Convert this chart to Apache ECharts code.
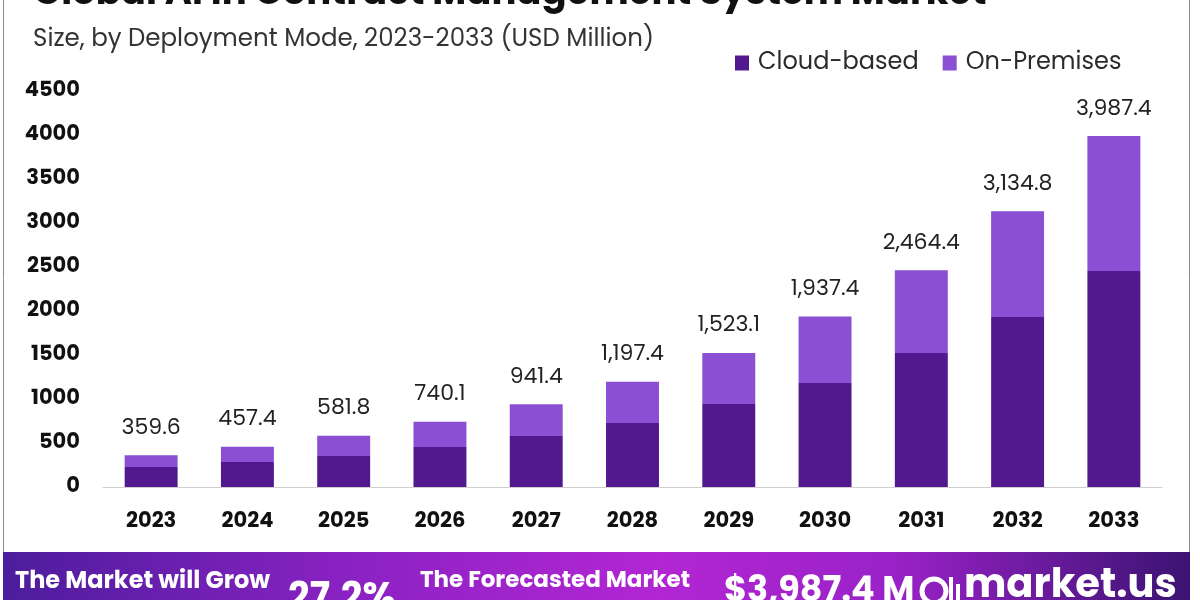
<!DOCTYPE html>
<html>
<head>
<meta charset="utf-8">
<script src="https://cdn.jsdelivr.net/npm/echarts@6/dist/echarts.min.js"></script>
<style>
html,body{margin:0;padding:0;background:#fff;}
#chart{width:1200px;height:600px;}
</style>
</head>
<body>
<div id="chart"></div>
<script>
const categories = ['2023','2024','2025','2026','2027','2028','2029','2030','2031','2032','2033'];
const totals = [359.6, 457.4, 581.8, 740.1, 941.4, 1197.4, 1523.1, 1937.4, 2464.4, 3134.8, 3987.4];
const cloudBased = [227, 284, 352, 455, 580, 727, 943, 1182, 1523, 1932, 2455];
const onPremises = [132.6, 173.4, 229.8, 285.1, 361.4, 470.4, 580.1, 755.4, 941.4, 1202.8, 1532.4];
const yTicks = [0, 500, 1000, 1500, 2000, 2500, 3000, 3500, 4000, 4500];

const FONT = 'Poppins, Inter, "Noto Sans", sans-serif';

function fmt(v){
  return v.toLocaleString('en-US',{minimumFractionDigits:1,maximumFractionDigits:1});
}

const chart = echarts.init(document.getElementById('chart'));
chart.setOption({
  backgroundColor:'#ffffff',
  animation:false,
  textStyle:{fontFamily:FONT},
  grid:{left:103, right:38, top:91, bottom:113, containLabel:false},
  legend:{
    data:['Cloud-based','On-Premises'],
    left:730, top:46,
    icon:'rect', itemWidth:14, itemHeight:15, itemGap:24,
    textStyle:{fontSize:24, color:'#2b2b2b', fontFamily:FONT, padding:[0,0,0,4]}
  },
  xAxis:{
    type:'category',
    data:categories,
    axisLine:{lineStyle:{color:'#cfcfcf', width:1}},
    axisTick:{show:false},
    axisLabel:{fontSize:21, fontWeight:'bold', color:'#111', margin:24, fontFamily:FONT}
  },
  yAxis:{
    type:'value',
    min:yTicks[0], max:yTicks[yTicks.length-1], interval:500,
    splitLine:{show:false},
    axisLine:{show:false},
    axisTick:{show:false},
    axisLabel:{fontSize:21, fontWeight:'bold', color:'#111', margin:23, fontFamily:FONT,
      formatter:v=>String(v)}
  },
  series:[
    {
      name:'Cloud-based', type:'bar', stack:'total',
      data:cloudBased, barWidth:'55%',
      itemStyle:{color:'#52198e'}
    },
    {
      name:'On-Premises', type:'bar', stack:'total',
      data:onPremises, barWidth:'55%',
      itemStyle:{color:'#8a4fd3'},
      label:{
        show:true, position:'top', distance:16,
        fontSize:22, color:'#222', fontFamily:FONT,
        formatter:p=>fmt(totals[p.dataIndex])
      }
    }
  ],
  graphic:[
    {type:'rect', z:-1, shape:{x:3.5, y:-10, width:1186, height:570},
      style:{fill:'none', stroke:'#8a8a8a', lineWidth:1}},
    {type:'text', left:33, top:-24,
      style:{text:'Global AI in Contract Management System Market', fontSize:37, fontWeight:'bold', fill:'#111', fontFamily:FONT}},
    {type:'text', left:33, top:27,
      style:{text:'Size, by Deployment Mode, 2023-2033 (USD Million)', fontSize:24.5, fill:'#333', fontFamily:FONT}},
    {type:'rect', shape:{x:3, y:552, width:1187, height:60},
      style:{fill:new echarts.graphic.LinearGradient(0,0,1,0,[
        {offset:0, color:'#4c1d9c'},
        {offset:0.3, color:'#8c22c4'},
        {offset:0.55, color:'#b226d3'},
        {offset:0.75, color:'#9a22c8'},
        {offset:1, color:'#3b1372'}
      ])}},
    {type:'text', left:15, top:570,
      style:{text:'The Market will Grow', fontSize:24, fontWeight:'bold', fill:'#fff', fontFamily:FONT}},
    {type:'text', left:288, top:580,
      style:{text:'27.2%', fontSize:38, fontWeight:'bold', fill:'#fff', fontFamily:FONT}},
    {type:'text', left:420, top:570,
      style:{text:'The Forecasted Market', fontSize:23, fontWeight:'bold', fill:'#fff', fontFamily:FONT}},
    {type:'text', left:724, top:575,
      style:{text:'$3,987.4 M', fontSize:35, fontWeight:'bold', fill:'#fff', fontFamily:FONT}},
    {type:'circle', shape:{cx:934, cy:591, r:12},
      style:{fill:'none', stroke:'#fff', lineWidth:5}},
    {type:'rect', shape:{x:949, y:577, width:4, height:30}, style:{fill:'#fff'}},
    {type:'rect', shape:{x:956, y:584, width:4, height:23}, style:{fill:'#fff'}},
    {type:'text', left:964, top:567,
      style:{text:'market.us', fontSize:40, fontWeight:'bold', fill:'#fff', fontFamily:FONT}}
  ]
});
</script>
</body>
</html>
